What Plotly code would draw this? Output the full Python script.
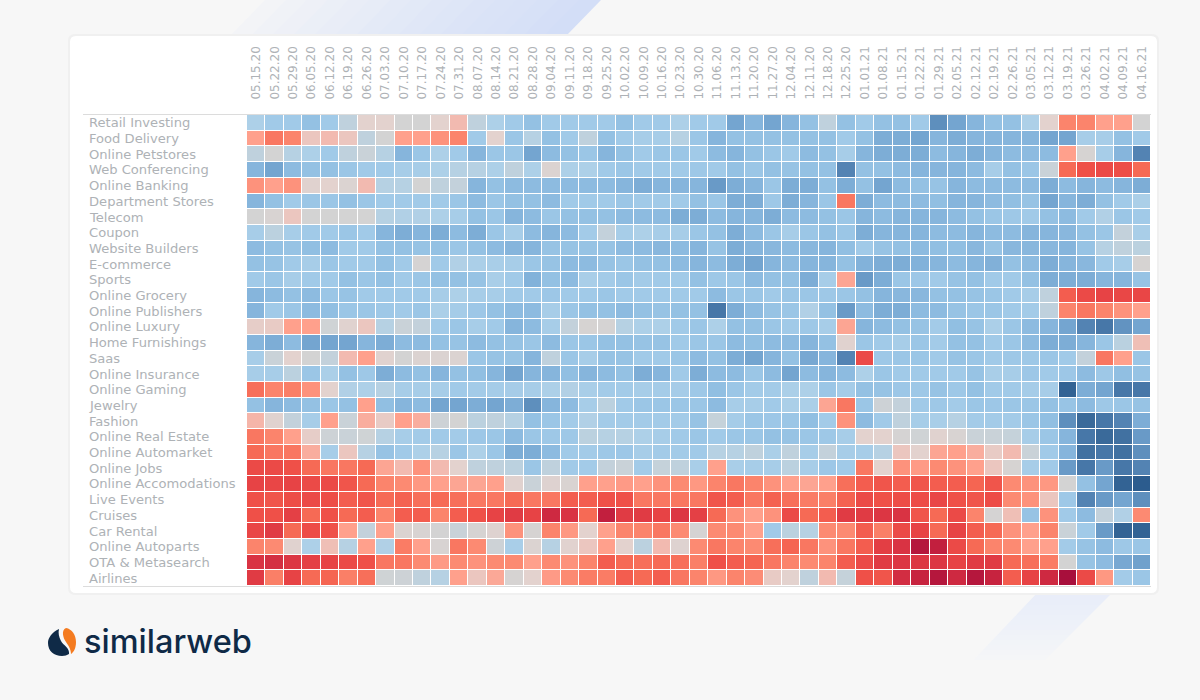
"""Weekly category heatmap on a white card, similarweb style."""

import plotly.graph_objects as go

WEEKS = [
    "05.15.20", "05.22.20", "05.29.20", "06.05.20", "06.12.20", "06.19.20", "06.26.20",
    "07.03.20", "07.10.20", "07.17.20", "07.24.20", "07.31.20", "08.07.20", "08.14.20",
    "08.21.20", "08.28.20", "09.04.20", "09.11.20", "09.18.20", "09.25.20", "10.02.20",
    "10.09.20", "10.16.20", "10.23.20", "10.30.20", "11.06.20", "11.13.20", "11.20.20",
    "11.27.20", "12.04.20", "12.11.20", "12.18.20", "12.25.20", "01.01.21", "01.08.21",
    "01.15.21", "01.22.21", "01.29.21", "02.05.21", "02.12.21", "02.19.21", "02.26.21",
    "03.05.21", "03.12.21", "03.19.21", "03.26.21", "04.02.21", "04.09.21", "04.16.21",
]

CATEGORIES = [
    "Retail Investing", "Food Delivery", "Online Petstores", "Web Conferencing",
    "Online Banking", "Department Stores", "Telecom", "Coupon", "Website Builders",
    "E-commerce", "Sports", "Online Grocery", "Online Publishers", "Online Luxury",
    "Home Furnishings", "Saas", "Online Insurance", "Online Gaming", "Jewelry", "Fashion",
    "Online Real Estate", "Online Automarket", "Online Jobs", "Online Accomodations",
    "Live Events", "Cruises", "Car Rental", "Online Autoparts", "OTA & Metasearch", "Airlines",
]

# Red is negative, blue is positive, on a -10..10 scale
RETAIL_INVESTING = [2,3,3,4,3,1,-1,-1,0,0,-1,-2, 1,2,3,4,3,3,3,3,4,3,3,2,3,3,6,5,6,5,4, 1,4,3,4,4,3,7,6,5,4,4,2,-1,-4,-4,-3,-3,0]
FOOD_DELIVERY = [-3,-4.5,-4,-1.5,-2,-1.5,1,0,-3,-3,-3.5,-4, 3,-1,3.5,1.5,4,3,1,4,3,2.5,2.5,1.5,3.5,5,4,4,4,4,4, 4,3,4,5.5,5.5,6,5,5.5,5,5,5,5,6,6,2.5,2.5,4,3]
ONLINE_PETSTORES = [1,0,1.5,2,3,1,0.5,1.5,5,3.5,2,3, 5,3.5,3.5,6,4.5,4,3.5,5,4,3,3.5,3.5,3,4.5,5,4,3.5,3,4.5, 4,2.5,5,5.5,5.5,5.5,4.5,5,5.5,5,4.5,4.5,4.5,-3,-0.2,2.5,5,7.5]
WEB_CONFERENCING = [5,6,4.5,4,4,3.5,3,3,2.5,2.5,2,1.5, 1.5,2,1,2,-0.5,2,2,3,3.5,3,3,3,3.2,3,4,3.5,4,3.8,4, 4,7.5,4,4,4.5,5,5,5,4.5,2.5,4,3.5,0.5,-5,-6,-6.5,-6.2,-5]
ONLINE_BANKING = [-3.5,-3,-3.5,-0.8,-1,-0.5,-2,1.5,1.5,0,1,0.8, 5,4,4.5,4.5,4.5,4.5,4.5,4.5,5,5.5,5,5,5,6.5,5.5,5,3.5,5.5,5.5, 4,5.5,4,6,4.5,4,3.8,5,4.5,4.5,4.5,4.5,5.5,4.5,5,4.5,5,5.5]
DEPARTMENT_STORES = [5,4,3,3.5,3.5,4,3.5,3,3,3,3,3.5, 4.5,3.5,4,4,4.5,3,3,3,3.5,3,3,3,4,3.5,5.5,5.5,3.2,5.5,5, 3.5,-4.5,5.5,4.5,4.5,4.5,4.2,5,5,4.5,4.2,3.8,6,5,5.5,4,3,2.2]
TELECOM = [0,-0.3,-1.5,0,0,0,0,1.5,1.8,1.8,2,2.5, 4,3.5,5,4.5,3.5,4,4,4,4.5,4.5,4.5,5.5,5.5,4.5,5,5,5.5,4.5,4.5, 4,3.5,5,4.5,5,5,5,4.5,4,3.5,3.2,3,4,4.5,3,1.8,3.5,3]
COUPON = [2.5,1.2,2.5,3,3,3.5,3,5,5.5,5,5.5,4.5, 5.5,3.5,2.5,4.5,5,4.5,2.8,0.8,2.5,2,2.5,2.5,3.5,4,5.5,4.5,3.5,2.5,3.5, 4,3.5,5.5,5,5,5,4.5,4.5,5,4.5,4.5,5,5,4.8,4,3.5,0.8,2.3]
WEBSITE_BUILDERS = [4.5,4,3.8,4.2,4.5,3,3,4,4,3.8,4,3.5, 4,4.5,5,5,3.8,3.8,3.8,3.8,4.5,4.5,4.8,4.5,5,3.8,5.5,5,4.8,4.5,4.8, 5,4.2,3,3.8,4,4.5,4.2,4.2,4.8,3.8,4.8,4.8,4.8,5,3.8,1.5,1,1.2]
E_COMMERCE = [4,3.8,3,2.5,3.5,3,3,4,3,-0.1,3,1.8, 2.2,2.3,2.5,3.5,3.8,4.5,4.5,3.8,3.5,4,4,4.5,5,4.5,5.5,6,5,4.5,5, 5,4,5.2,5.5,5.5,5.2,5,4.5,5,5.3,4,4.5,5.5,5,4.8,3,2.5,-0.2]
SPORTS = [3,3.5,2.5,3,3,4,3.5,4,3,3.5,4,4, 3.8,2.3,3,5.2,4,4.5,2.3,2.8,3.5,2.8,3,3,4,3.2,3.5,4.5,4,4,5.5, 2.5,-2.8,6.5,5.5,3.5,3.3,3,3.8,4,3,3,4,5.5,5.5,5.5,5,5,3.8]
ONLINE_GROCERY = [5,4.5,4,4.5,3.5,3.8,3,3,3,3,2.5,2, 2.5,2.5,3,3,3.3,3,3,3.5,3,3,3,3,3,4.5,3.5,3.5,3,3.5,3.5, 3.2,3.5,4,5,4.8,4.8,4,4,3.8,3.5,3,2.5,1,-5.5,-6.5,-7,-6.7,-6.8]
ONLINE_PUBLISHERS = [5,3,3.5,4.5,4.2,3.5,3.5,3.2,3,3.5,2.2,2.7, 3.3,4,4.5,4.5,2.5,3.5,4,4,4.5,4,3.8,4,4,8,5.5,4.5,3.8,3.5,1.8, 4,6.5,4.5,5.5,5.5,4.5,4.5,3.8,3.5,3.5,3,2.8,1,-4,-4.5,-4,-3.5,-3]
ONLINE_LUXURY = [-1.2,-1.3,-3,-3,0.2,-0.8,-1.5,1.5,0.5,0.8,3,3.5, 2.5,3,5,4.5,2.5,0.8,-0.2,-0.1,1.5,2,2,3,3.5,2,4,4,3.5,3,3.2, 2.5,-2.8,5,4.5,4,3.8,2.8,4.2,3.8,2.2,3.5,4.5,5,6,7.5,8,6.8,6]
HOME_FURNISHINGS = [5,5.5,4.5,6,6,6,5,5.5,4.5,4.5,4,3.8, 4.5,4,3.8,3.5,4.5,3.5,3.5,4,4,3.8,3.8,3,3.5,3.5,4.5,4.2,4.5,4.5,5, 4,-0.8,3.5,3,2.5,3.5,2.8,4,4,3,3.5,4.5,5.5,5.5,5,3.5,1.3,-1.8]
SAAS = [2.5,0.5,-1,0,0.8,-2,-3,-0.8,0,-0.5,-0.5,-0.5, 3.5,3.8,3.8,5,1,3.5,2.5,3.8,3.8,3,3,3.5,4.5,4,5.5,6,5,4,5.8, 5,7.5,-6.5,3.2,3.5,3.5,3,3.8,3.5,3,3.2,3.2,3.5,3,0.8,-4.5,-3,3.5]
ONLINE_INSURANCE = [2.5,2.5,1.2,3.5,2.2,4,3.2,5.5,4.5,4,5,4, 4.2,5,6,5,5,4.2,5,4.5,4,5.5,5,3,5.5,4.5,4.5,3.5,4.5,6,4.5, 5,4.5,2,3.5,3,3,3,3,3.8,2.3,2.5,3.3,3,3.3,4.5,3.2,4.2,3.8]
ONLINE_GAMING = [-4.8,-4,-4.2,-3.5,-1,1.8,2,1.5,2.5,2.5,2.5,3, 2.8,2.7,2.6,2.5,2,1.7,2.3,2.8,2.8,2.5,2.7,2.6,3.2,4.2,3.5,2.8,2.8,2.2,2, 3.5,2.7,4,3.8,3.3,3.2,3.8,3.2,4,3,3,2.7,2.5,9.5,5.5,6,8,8]
JEWELRY = [4,5,4.5,4,3.5,4,-3,4.2,5,4.5,6,6, 5.5,6,5.5,7,5,4.5,2.5,1.2,3,3.5,3.5,3.5,3.5,4.5,2.5,2.5,3,2.2,2.2, -2.8,-4.5,3.5,0.3,0.8,3,3.2,2.8,3.5,3.3,3.5,3.5,4,3.7,4.5,3.2,3.5,3.8]
FASHION = [-2.2,-0.8,0.8,2.5,-3,0.5,-2.5,-1.3,-3,-2.5,0.3,0, 1.2,1,1.5,4,3.5,2.8,1.8,2.8,2.8,2.8,2.8,2.8,3.8,0.7,2.7,3.5,3.3,3.5,4.2, 2.8,-3.5,4.5,3,1,2.5,2.3,1.5,2.8,2.8,2.8,3.5,4.2,7,9,8,7.5,5.5]
ONLINE_REAL_ESTATE = [-4.5,-4,-3,-1.2,0.3,0.5,0.2,1.5,2.5,2.8,3,2.8, 3.3,3.5,4.5,3.5,3.2,3.2,1.2,1.5,1.5,2,2.5,3,3.5,3,3.5,3.5,4,3.8,3.5, 3.2,2.5,-1,-1,-0.1,0.2,-0.8,-0.3,0.5,0.5,0.7,2.5,3.5,5,8,9,8.5,6.5]
ONLINE_AUTOMARKET = [-5,-4.5,-4.5,-2.5,2.5,-1.5,1.5,3.8,3,2,1.5,3.5, 2,3.5,5.5,5.5,4.5,3,2.8,3.2,3.3,2.5,2.8,2.8,3,1.5,1.5,1,2.2,1,2.5, 0.8,2.5,2.5,1.5,-1.5,-1,-2.8,-3,-2.5,-1.3,-2,0.5,3,5,8.5,8,8.5,7]
ONLINE_JOBS = [-6.5,-6.5,-6,-5,-4.5,-4.5,-5,-2.8,-2,-3.5,-2,-1, 1,1,1.2,3.5,1,3,2.8,0.8,0.5,2.8,0.7,1,2.3,-3,2.3,2.5,2.5,1.2,2.5, 3.3,3,-4.5,-1,-3.5,-3.2,-3.8,-3.5,-3,-1.5,-0.2,2.5,3,6.5,8,6.5,8,7.5]
ONLINE_ACCOMODATIONS = [-7,-6.8,-7,-6.5,-6.5,-5.8,-5,-4,-3.8,-3.3,-3,-2.8, -2.8,-3,-0.8,0.5,-0.7,-0.4,-3,-3,-3.2,-3,-3.5,-3.8,-3.3,-4,-4.5,-4,-3.5,-3,-2.8, -3,-4.8,-5.5,-5.8,-5.5,-5.8,-5.5,-5.5,-5.2,-5.8,-3.8,-3.5,-3.3,0,4,6,9.5,10]
LIVE_EVENTS = [-6,-5.8,-6.2,-6.5,-6.2,-5.5,-5.8,-5,-5.3,-4.8,-5,-4.8, -4.5,-4.5,-5,-4.5,-4.5,-5.5,-5.5,-6,-6,-4.5,-4.5,-4.5,-4.5,-5.8,-5.5,-4.5,-5.3,-4.8,-4.3, -4.2,-5.3,-6.5,-6,-6.2,-6.3,-6.8,-6,-5.8,-6.3,-3.8,-3.5,-1.5,3.2,7.5,6.5,6,7]
CRUISES = [-6,-6,-7.2,-5,-6,-5,-5.5,-4,-5.5,-5.5,-4,-5.5, -6,-7,-7.5,-7,-8.5,-8,-5,-9,-7.5,-7.5,-7,-7.8,-7.2,-5,-3.5,-3,-3.5,-6.5,-5, -5.5,-7.5,-7.5,-7.8,-8,-5.8,-5,-6.5,-4,-0.1,-1.8,3.8,-3.5,3,4.5,0.8,1.8,-3.8]
CAR_RENTAL = [-6.8,-7.5,-5,-6.3,-6,-3,0.8,-3,-0.5,-0.3,0,0.5, -0.2,-0.7,-3.5,-0.2,-4,-3.3,-1,-3,-4,-4,-4.5,-3.8,-0.1,-3.8,-3.8,-3,3,1.2,1.5, -3.8,-3.8,-5.5,-4.2,-6.5,-7,-5,-7,-5.5,-5,-3.5,-3,-4,0.5,3,6.5,9.5,9.5]
ONLINE_AUTOPARTS = [-4,-3.8,-0.8,2,-1.8,1.5,-3,1.8,-4.3,-3,-0.3,-4.5, -3.8,0.3,2.3,-0.5,1.5,-0.9,-1.5,-3,-1,1.2,-2,-0.7,-3.8,-4.5,-4,-3.8,-4.8,-5.2,-4.5, -3.5,-4.5,-5.5,-7.3,-8,-9.5,-9,-6.5,-5,-4,-3.8,-3,-3,2.8,3.8,4.5,3.2,3.5]
OTA_METASEARCH = [-8,-8.2,-7.8,-7.2,-7,-6.5,-6,-4.5,-4.5,-3.8,-3.2,-3.8, -3.5,-3.8,-3.8,-3,-3.8,-3.5,-4,-5.5,-5,-4.8,-5,-4.8,-4.2,-6,-5.5,-5.2,-4.5,-4,-3.8, -4,-5.5,-6.5,-7.5,-7.8,-7.8,-7.8,-7,-7.5,-7.5,-5,-4.8,-4.3,0,3.8,4.5,5.8,6.2]
AIRLINES = [-7.5,-4.2,-7,-5,-5.2,-4.2,-4.8,0.2,0.3,1,1.5,-3, -1.5,-2.7,-0.2,-1,-3.2,-3.8,-4.3,-4.3,-5.5,-5,-5.5,-4.5,-4,-3.3,-4,-3.7,-1.3,-1,1, -2,0.7,-6,-5.8,-8.3,-8.8,-9.5,-8.5,-9.5,-8.8,-5.5,-7,-8.5,-10,-6.5,-3.3,2.8,3.5]

VALUES = [
    RETAIL_INVESTING, FOOD_DELIVERY, ONLINE_PETSTORES, WEB_CONFERENCING, ONLINE_BANKING,
    DEPARTMENT_STORES, TELECOM, COUPON, WEBSITE_BUILDERS, E_COMMERCE, SPORTS, ONLINE_GROCERY,
    ONLINE_PUBLISHERS, ONLINE_LUXURY, HOME_FURNISHINGS, SAAS, ONLINE_INSURANCE, ONLINE_GAMING,
    JEWELRY, FASHION, ONLINE_REAL_ESTATE, ONLINE_AUTOMARKET, ONLINE_JOBS, ONLINE_ACCOMODATIONS,
    LIVE_EVENTS, CRUISES, CAR_RENTAL, ONLINE_AUTOPARTS, OTA_METASEARCH, AIRLINES,
]
for row in VALUES:
    assert len(row) == len(WEEKS)

COLORS = [
    [-10, "#a80f3c"], [-9, "#c21f3e"], [-8, "#d93343"], [-7, "#e74345"], [-6, "#ef5048"],
    [-5, "#f66a55"], [-4, "#fb846c"], [-3, "#ffa08c"], [-2, "#f2bab0"], [-1, "#e3d2ce"],
    [0, "#d3d3d3"], [1, "#bfd1dd"], [2, "#add0e8"], [3, "#a1cae8"], [4, "#94c1e3"],
    [5, "#86b5dc"], [6, "#74a5d0"], [7, "#5e8fbd"], [8, "#4777a8"], [9, "#3a6a9a"],
    [10, "#2c5c8e"],
]
COLORSCALE = [[(v + 10) / 20, c] for v, c in COLORS]

PLOT_L, PLOT_R, PLOT_T, PLOT_B = 247, 1151, 115, 586
TEXT_GREY = "#aeb2b6"
NAVY = "#0f2a47"


def px(x):
    return (x - PLOT_L) / (PLOT_R - PLOT_L)


def py(y):
    return 1 - (y - PLOT_T) / (PLOT_B - PLOT_T)


def paper_path(points):
    """Closed polygon through page-pixel points, in paper coordinates."""
    body = " L ".join(f"{px(x):.5f},{py(y):.5f}" for x, y in points)
    return f"M {body} Z"


def mix(a, b, t):
    a = [int(a[i:i + 2], 16) for i in (1, 3, 5)]
    b = [int(b[i:i + 2], 16) for i in (1, 3, 5)]
    return "rgb(" + ",".join(str(round(p + (q - p) * t)) for p, q in zip(a, b)) + ")"


def shape(path, color):
    return dict(type="path", xref="paper", yref="paper", path=path, fillcolor=color,
                line_width=0, layer="below")


def rounded_rect(x0, y0, x1, y1, r):
    return (
        f"M {px(x0 + r)},{py(y0)} L {px(x1 - r)},{py(y0)} Q {px(x1)},{py(y0)} {px(x1)},{py(y0 + r)} "
        f"L {px(x1)},{py(y1 - r)} Q {px(x1)},{py(y1)} {px(x1 - r)},{py(y1)} "
        f"L {px(x0 + r)},{py(y1)} Q {px(x0)},{py(y1)} {px(x0)},{py(y1 - r)} "
        f"L {px(x0)},{py(y0 + r)} Q {px(x0)},{py(y0)} {px(x0 + r)},{py(y0)} Z"
    )


def curve(points):
    """SVG path in page pixels, converted to paper coordinates."""
    out = []
    for cmd, *pts in points:
        out.append(cmd + " " + " ".join(f"{px(x):.5f},{py(y):.5f}" for x, y in pts))
    return " ".join(out) + " Z"


shapes = []

# Faded band behind the top of the card
steps = 16
for i in range(steps):
    x0 = 265 + (600 - 265) * i / steps
    x1 = 265 + (600 - 265) * (i + 1) / steps
    color = mix("#f7f7f7", "#d3def7", ((i + 1) / steps) ** 0.8)
    shapes.append(shape(paper_path([(x0, 0), (x1 + 1, 0), (x1 - 34, 36), (x0 - 35, 36)]), color))

# Faded band below the card
for i in range(14):
    y0 = 590 + 70 * i / 14
    y1 = 590 + 70 * (i + 1) / 14
    color = mix("#e8edf9", "#f6f7f8", (i / 14) ** 1.2)
    shapes.append(shape(paper_path([
        (1115 - (y0 - 590), y0), (1115 - (y1 - 590), y1),
        (1040 - (y1 - 590) * 0.95, y1), (1040 - (y0 - 590) * 0.95, y0),
    ]), color))

# Card
shapes.append(shape(rounded_rect(68, 34, 1159, 595, 7), "#f0f0f0"))
shapes.append(shape(rounded_rect(70, 36, 1157, 593, 6), "#ffffff"))

# Rules above and below the rows
for y in (PLOT_T - 0.5, PLOT_B + 0.5):
    shapes.append(dict(type="line", xref="paper", yref="paper", x0=px(83), x1=px(1151),
                       y0=py(y), y1=py(y), line=dict(color="#dcdcdc", width=1), layer="below"))

# Logo mark
shapes.append(shape(curve([
    ("M", (59, 629)), ("C", (52, 632), (48, 638), (48, 643)),
    ("C", (48, 651), (54, 656), (62, 656)), ("C", (65, 656), (67, 655), (69, 654)),
    ("C", (70, 648), (63, 645), (61, 641)), ("C", (59, 637), (58, 633), (59, 629)),
]), NAVY))
shapes.append(shape(curve([
    ("M", (66, 628)), ("C", (72, 629), (76, 635), (76, 642)),
    ("C", (76, 648), (74, 652), (71, 654)), ("C", (71, 649), (68, 645), (66, 642)),
    ("C", (63, 638), (61, 630), (66, 628)),
]), "#f47b20"))

annotations = [
    dict(text=name, x=px(87), y=name, xref="paper", yref="y", xanchor="left", yanchor="middle",
         showarrow=False, font=dict(family="DejaVu Sans", size=13.1, color=TEXT_GREY))
    for name in CATEGORIES
]
annotations.append(dict(
    text="similarweb", x=px(82), y=py(641), xref="paper", yref="paper", xanchor="left",
    yanchor="middle", showarrow=False, font=dict(family="Inter", size=32.5, color=NAVY, weight=500),
))

fig = go.Figure(
    go.Heatmap(
        z=VALUES,
        x=WEEKS,
        y=CATEGORIES,
        zmin=-10,
        zmax=10,
        colorscale=COLORSCALE,
        showscale=False,
        xgap=1,
        ygap=1,
    )
)
fig.update_layout(
    width=1200,
    height=700,
    margin=dict(l=PLOT_L, r=1200 - PLOT_R, t=PLOT_T, b=700 - PLOT_B, pad=0),
    paper_bgcolor="#f7f7f7",
    plot_bgcolor="rgba(0,0,0,0)",
    shapes=shapes,
    annotations=annotations,
    xaxis=dict(
        side="top",
        type="category",
        range=[-0.5, len(WEEKS) - 0.5],
        tickangle=-90,
        ticks="outside",
        ticklen=12,
        tickcolor="rgba(0,0,0,0)",
        showgrid=False,
        zeroline=False,
        tickfont=dict(family="DejaVu Sans", size=12, color=TEXT_GREY),
        tickmode="array",
        tickvals=WEEKS,
        ticktext=WEEKS,
    ),
    yaxis=dict(
        type="category",
        range=[len(CATEGORIES) - 0.5, -0.5],
        showticklabels=False,
        ticks="",
        showgrid=False,
        zeroline=False,
    ),
)

# The page's default body margin would push the 1200x700 figure off the window
fig.write_html(
    "out.html",
    config={"displayModeBar": False},
    post_script="document.body.style.margin = '0';",
)
